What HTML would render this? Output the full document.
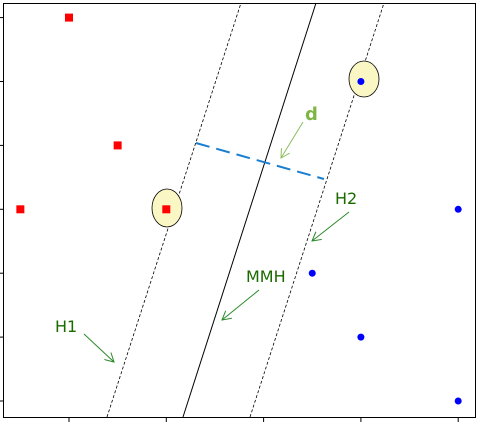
<!DOCTYPE html>
<html><head><meta charset="utf-8"><style>
html,body{margin:0;padding:0;background:#fff;width:479px;height:422px;overflow:hidden}
svg{display:block;font-family:"DejaVu Sans","Liberation Sans",sans-serif}
</style></head><body>
<svg id="chart" width="479" height="422" viewBox="0 0 479 422">
<rect x="3.5" y="3.5" width="472" height="414" fill="#fff" stroke="#000" stroke-width="1"/>
<g id="ticks"></g>
<line x1="107" y1="417" x2="241" y2="3" stroke="#000" stroke-width="0.8" stroke-dasharray="3,2"/>
<line x1="183" y1="417" x2="316" y2="3" stroke="#000" stroke-width="1"/>
<line x1="250" y1="417" x2="384" y2="3" stroke="#000" stroke-width="0.8" stroke-dasharray="3,2"/>
<line x1="196" y1="143" x2="324" y2="179" stroke="#1a7fd0" stroke-width="2" stroke-dasharray="14,7"/>
<ellipse cx="167" cy="208" rx="15" ry="19" fill="#fbf7c4" stroke="#000" stroke-width="0.8"/>
<ellipse cx="364" cy="79" rx="15" ry="18" fill="#fbf7c4" stroke="#000" stroke-width="0.8"/>
<g id="points"></g>
<defs><marker id="ah" markerWidth="10" markerHeight="10" refX="9" refY="5" orient="auto" markerUnits="userSpaceOnUse"><path d="M0,0 L9,5 L0,10" fill="none" stroke="#2a8a2a" stroke-width="1"/></marker>
<marker id="ah2" markerWidth="10" markerHeight="10" refX="9" refY="5" orient="auto" markerUnits="userSpaceOnUse"><path d="M0,0 L9,5 L0,10" fill="none" stroke="#8cc060" stroke-width="1"/></marker></defs>
<text x="305" y="120" fill="#7fb545" font-size="18" font-weight="bold">d</text>
<line x1="303" y1="122" x2="281" y2="158" stroke="#8cc060" stroke-width="1" marker-end="url(#ah2)"/>
<text x="335" y="204" fill="#1a6a00" font-size="16">H2</text>
<line x1="349" y1="212" x2="312" y2="241" stroke="#2a8a2a" stroke-width="1" marker-end="url(#ah)"/>
<text x="246" y="282" fill="#1a6a00" font-size="16">MMH</text>
<line x1="259" y1="290" x2="222" y2="320" stroke="#2a8a2a" stroke-width="1" marker-end="url(#ah)"/>
<text x="55" y="332" fill="#1a6a00" font-size="16">H1</text>
<line x1="84" y1="334" x2="114" y2="362" stroke="#2a8a2a" stroke-width="1" marker-end="url(#ah)"/>
</svg>
<script>
const xTicks = [1, 2, 3, 4, 5];
const yTicks = [0, 1, 2, 3, 4, 5, 6];
const redX = [0.5, 1, 1.5, 2];
const redY = [3, 6, 4, 3];
const blueX = [4, 3.5, 5, 4, 5];
const blueY = [5, 2, 3, 1, 0];
function sx(v){return 69 + (v - 1) * 97.3;}
function sy(v){return 401 - v * 63.9;}
const NS = "http://www.w3.org/2000/svg";
const tg = document.getElementById('ticks');
const pg = document.getElementById('points');
xTicks.forEach(v => {
  const l = document.createElementNS(NS, 'line');
  l.setAttribute('x1', sx(v)); l.setAttribute('x2', sx(v));
  l.setAttribute('y1', 417); l.setAttribute('y2', 422);
  l.setAttribute('stroke', '#000');
  
  
  tg.appendChild(l);
});
yTicks.forEach(v => {
  const l = document.createElementNS(NS, 'line');
  l.setAttribute('x1', 0); l.setAttribute('x2', 3);
  l.setAttribute('y1', sy(v)); l.setAttribute('y2', sy(v));
  l.setAttribute('stroke', '#000');
  
  
  tg.appendChild(l);
});
redX.forEach((v, i) => {
  const r = document.createElementNS(NS, 'rect');
  r.setAttribute('x', sx(v) - 4); r.setAttribute('y', sy(redY[i]) - 4);
  r.setAttribute('width', 8); r.setAttribute('height', 8);
  r.setAttribute('fill', '#ff0000');
  
  
  pg.appendChild(r);
});
blueX.forEach((v, i) => {
  const c = document.createElementNS(NS, 'circle');
  c.setAttribute('cx', sx(v)); c.setAttribute('cy', sy(blueY[i]));
  c.setAttribute('r', 3.5);
  c.setAttribute('fill', '#0000ff');
  
  
  pg.appendChild(c);
});
</script>
</body></html>
